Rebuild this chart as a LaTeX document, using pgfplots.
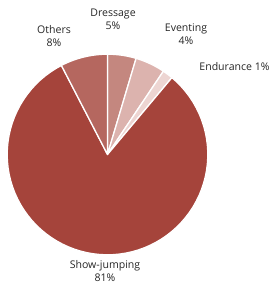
\documentclass[border=0pt]{standalone}
\usepackage{pgfplots}
\pgfplotsset{compat=1.18}
\usepackage{pgfplotstable}
\usepackage{fontspec}
\setmainfont{Open Sans}
\definecolor{cSJ}{HTML}{A5443B}
\definecolor{cOth}{HTML}{B5675F}
\definecolor{cDre}{HTML}{C4877F}
\definecolor{cEve}{HTML}{DCB3AE}
\definecolor{cEnd}{HTML}{EDD5D2}
\definecolor{txt}{HTML}{262626}
% slice shares (percent), clockwise from 12 o'clock
\pgfplotstableread{
name share
Dressage 4.6
Eventing 4.8
Endurance 1.7
Showjumping 81.3
Others 7.6
}\piedata
\newcommand{\cx}{107.5}
\newcommand{\cy}{128.5}
\newcommand{\rr}{100.3}
\newcommand{\pieslice}[3]{%
  \pgfmathsetmacro{\aS}{90-3.6*#1}%
  \pgfmathsetmacro{\aE}{90-3.6*(#1+#2)}%
  \addplot[fill=#3, draw=white, line width=1.3pt, line join=round, domain=\aS:\aE, samples=80, variable=\t]
    ({\cx+\rr*cos(\t)},{\cy+\rr*sin(\t)}) -- (axis cs:\cx,\cy) -- cycle;
}
\begin{document}
\begin{tikzpicture}
\begin{axis}[
  scale only axis, width=271bp, height=283bp,
  xmin=0, xmax=271, ymin=0, ymax=283,
  hide axis, clip=false,
]
\pgfplotstablegetelem{0}{share}\of\piedata \let\vA\pgfplotsretval
\pgfplotstablegetelem{1}{share}\of\piedata \let\vB\pgfplotsretval
\pgfplotstablegetelem{2}{share}\of\piedata \let\vC\pgfplotsretval
\pgfplotstablegetelem{3}{share}\of\piedata \let\vD\pgfplotsretval
\pgfplotstablegetelem{4}{share}\of\piedata \let\vE\pgfplotsretval
\pgfmathsetmacro{\cB}{\vA}
\pgfmathsetmacro{\cC}{\vA+\vB}
\pgfmathsetmacro{\cD}{\vA+\vB+\vC}
\pgfmathsetmacro{\cE}{\vA+\vB+\vC+\vD}
\pieslice{0}{\vA}{cDre}
\pieslice{\cB}{\vB}{cEve}
\pieslice{\cC}{\vC}{cEnd}
\pieslice{\cD}{\vD}{cSJ}
\pieslice{\cE}{\vE}{cOth}
\begin{scope}[every node/.style={font=\fontsize{10.6}{13}\selectfont, text=txt, align=center, inner sep=0pt}]
\node at (axis cs:113,263.5) {Dressage\\5\%};
\node at (axis cs:186,248.5) {Eventing\\4\%};
\node at (axis cs:54,247) {Others\\8\%};
\node at (axis cs:234.5,216) {Endurance 1\%};
\node at (axis cs:105,11.5) {Show-jumping\\81\%};
\end{scope}
\end{axis}
\path (current axis.south west) rectangle (current axis.north east);
\end{tikzpicture}
\end{document}
